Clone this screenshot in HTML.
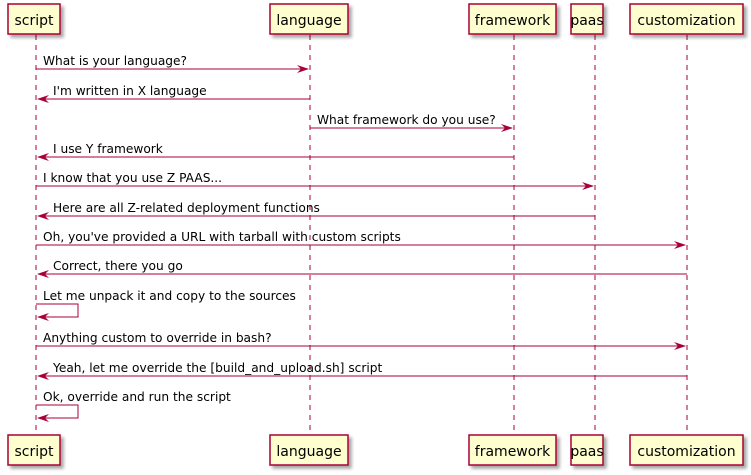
<!DOCTYPE html>
<html><head><meta charset="utf-8"><style>
html,body{margin:0;padding:0;background:#fff;}
svg{display:block;}
text{font-family:"DejaVu Sans","Liberation Sans",sans-serif;font-size:12.2px;fill:#000;}
.bx text{font-size:14px;}
</style></head><body>
<svg width="751" height="475" viewBox="0 0 751 475" xmlns="http://www.w3.org/2000/svg">
<defs>
<filter id="sh" x="-20%" y="-20%" width="150%" height="160%"><feGaussianBlur in="SourceAlpha" stdDeviation="1.5"/><feOffset dx="3" dy="3"/><feComponentTransfer><feFuncA type="linear" slope="0.35"/></feComponentTransfer><feMerge><feMergeNode/><feMergeNode in="SourceGraphic"/></feMerge></filter>
</defs>
<g stroke="#A80036" stroke-width="1" stroke-dasharray="5,5">
<line x1="36" y1="35" x2="36" y2="434"/>
<line x1="310" y1="35" x2="310" y2="434"/>
<line x1="514" y1="35" x2="514" y2="434"/>
<line x1="595" y1="35" x2="595" y2="434"/>
<line x1="687" y1="35" x2="687" y2="434"/>
</g>
<g class="bx" fill="#FEFECE" stroke="#A80036" stroke-width="1.5">
<rect x="8" y="4" width="52" height="30" filter="url(#sh)"/>
<rect x="270" y="4" width="78" height="30" filter="url(#sh)"/>
<rect x="469" y="4" width="87" height="30" filter="url(#sh)"/>
<rect x="571" y="4" width="32" height="30" filter="url(#sh)"/>
<rect x="630" y="4" width="113" height="30" filter="url(#sh)"/>
<rect x="8" y="435" width="52" height="30" filter="url(#sh)"/>
<rect x="270" y="435" width="78" height="30" filter="url(#sh)"/>
<rect x="469" y="435" width="87" height="30" filter="url(#sh)"/>
<rect x="571" y="435" width="32" height="30" filter="url(#sh)"/>
<rect x="630" y="435" width="113" height="30" filter="url(#sh)"/>
</g>
<g class="bx" text-anchor="middle">
<text x="34" y="25">script</text><text x="309" y="25">language</text><text x="512.5" y="25">framework</text><text x="587" y="25">paas</text><text x="686.5" y="25">customization</text>
<text x="34" y="456">script</text><text x="309" y="456">language</text><text x="512.5" y="456">framework</text><text x="587" y="456">paas</text><text x="686.5" y="456">customization</text>
</g>
<g stroke="#A80036" stroke-width="1" fill="none">
<line x1="36" y1="69" x2="308" y2="69"/>
<line x1="38" y1="99" x2="310" y2="99"/>
<line x1="310" y1="128" x2="512" y2="128"/>
<line x1="38" y1="157" x2="514" y2="157"/>
<line x1="36" y1="186" x2="593" y2="186"/>
<line x1="38" y1="216" x2="595" y2="216"/>
<line x1="36" y1="245" x2="685" y2="245"/>
<line x1="38" y1="274" x2="687" y2="274"/>
<polyline points="36,304 78,304 78,317 38,317"/>
<line x1="36" y1="346" x2="685" y2="346"/>
<line x1="38" y1="376" x2="687" y2="376"/>
<polyline points="36,405 78,405 78,418 38,418"/>
</g>
<g fill="#A80036">
<polygon points="297,65 309,69 297,73 301,69"/>
<polygon points="501,124 513,128 501,132 505,128"/>
<polygon points="582,182 594,186 582,190 586,186"/>
<polygon points="674,241 686,245 674,249 678,245"/>
<polygon points="674,342 686,346 674,350 678,346"/>
<polygon points="49,95 37,99 49,103 45,99"/>
<polygon points="49,153 37,157 49,161 45,157"/>
<polygon points="49,212 37,216 49,220 45,216"/>
<polygon points="49,270 37,274 49,278 45,274"/>
<polygon points="49,313 37,317 49,321 45,317"/>
<polygon points="49,372 37,376 49,380 45,376"/>
<polygon points="49,414 37,418 49,422 45,418"/>
</g>
<g>
<text x="43" y="65">What is your language?</text>
<text x="53" y="95">I'm written in X language</text>
<text x="317" y="124">What framework do you use?</text>
<text x="53" y="153">I use Y framework</text>
<text x="43" y="182">I know that you use Z PAAS...</text>
<text x="53" y="212">Here are all Z-related deployment functions</text>
<text x="43" y="241">Oh, you've provided a URL with tarball with custom scripts</text>
<text x="53" y="270">Correct, there you go</text>
<text x="43" y="300">Let me unpack it and copy to the sources</text>
<text x="43" y="342">Anything custom to override in bash?</text>
<text x="53" y="372">Yeah, let me override the [build_and_upload.sh] script</text>
<text x="43" y="401">Ok, override and run the script</text>
</g>
</svg>
</body></html>
